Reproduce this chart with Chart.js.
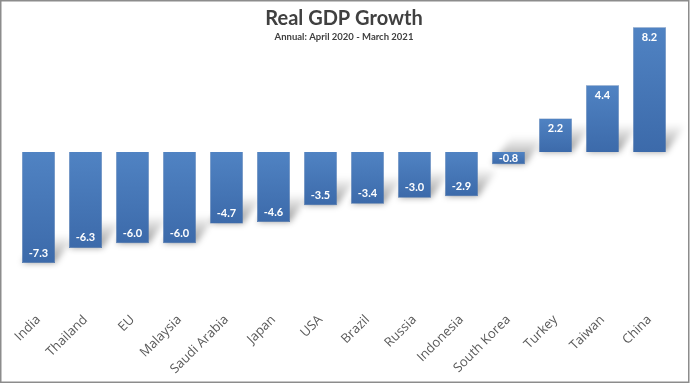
<!DOCTYPE html>
<html>
<head>
<meta charset="utf-8">
<title>Real GDP Growth</title>
<script src="https://cdn.jsdelivr.net/npm/chart.js@4"></script>
<style>
    body { margin: 0; background: #ffffff; }
    canvas { display: block; }
</style>
</head>
<body>
<canvas id="graficoGdp" width="690" height="384"></canvas>
<script>
const countries = ["India", "Thailand", "EU", "Malaysia", "Saudi Arabia", "Japan", "USA", "Brazil", "Russia", "Indonesia", "South Korea", "Turkey", "Taiwan", "China"];
const growth = [-7.3, -6.3, -6.0, -6.0, -4.7, -4.6, -3.5, -3.4, -3.0, -2.9, -0.8, 2.2, 4.4, 8.2];
const chartTitle = "Real GDP Growth";
const chartSubtitle = "Annual: April 2020 - March 2021";

document.addEventListener("DOMContentLoaded", () => {
    generarGrafico();
});

// gradient per bar, lighter at the top
function barFill(context) {
    const chart = context.chart;
    const y = chart.scales.y;
    if (!y || !chart.chartArea) return "#4a7cbc";
    const v = growth[context.dataIndex];
    const top = y.getPixelForValue(Math.max(v, 0));
    const bottom = y.getPixelForValue(Math.min(v, 0));
    const g = chart.ctx.createLinearGradient(0, top, 0, bottom + 0.01);
    g.addColorStop(0, "#5083c3");
    g.addColorStop(1, "#3c6aaa");
    return g;
}

const floorShadow = {
    id: "floorShadow",
    beforeDatasetsDraw(chart) {
        const ctx = chart.ctx;
        const meta = chart.getDatasetMeta(0);
        ctx.save();
        ctx.filter = "blur(3px)";
        meta.data.forEach((bar) => {
            const half = bar.width / 2;
            const left = bar.x - half;
            const right = bar.x + half;
            const bottom = Math.max(bar.y, bar.base);
            const dx = 20, dy = 28;
            const g = ctx.createLinearGradient(0, bottom, 0, bottom - dy);
            g.addColorStop(0, "rgba(0,0,0,0.42)");
            g.addColorStop(1, "rgba(0,0,0,0)");
            ctx.fillStyle = g;
            ctx.beginPath();
            ctx.moveTo(left, bottom);
            ctx.lineTo(right, bottom);
            ctx.lineTo(right + dx, bottom - dy);
            ctx.lineTo(left + dx, bottom - dy);
            ctx.closePath();
            ctx.fill();
        });
        ctx.restore();
    }
};

const barLabels = {
    id: "barLabels",
    afterDatasetsDraw(chart) {
        const ctx = chart.ctx;
        const meta = chart.getDatasetMeta(0);
        ctx.save();
        ctx.fillStyle = "#ffffff";
        ctx.font = "bold 11px Lato";
        ctx.textAlign = "center";
        ctx.textBaseline = "middle";
        meta.data.forEach((bar, i) => {
            const v = growth[i];
            const h = Math.abs(bar.base - bar.y);
            const off = Math.min(10, h / 2);
            const y = v < 0 ? bar.y - off : bar.y + off;
            ctx.fillText(v.toFixed(1), bar.x, y);
        });
        ctx.restore();
    }
};

const titles = {
    id: "titles",
    afterDraw(chart) {
        const ctx = chart.ctx;
        ctx.save();
        ctx.textAlign = "center";
        ctx.textBaseline = "alphabetic";
        ctx.fillStyle = "#404040";
        ctx.font = "bold 20px Lato";
        ctx.fillText(chartTitle, 344, 25);
        ctx.font = "bold 9.5px Lato";
        ctx.fillText(chartSubtitle, 344, 40);
        // frame
        ctx.strokeStyle = "#8c8c8c";
        ctx.lineWidth = 1.5;
        ctx.strokeRect(0.75, 0.75, 688, 381.5);
        ctx.restore();
    }
};

function generarGrafico() {
    const ctx = document.getElementById("graficoGdp").getContext("2d");
    new Chart(ctx, {
        type: "bar",
        data: {
            labels: countries,
            datasets: [{
                label: "Real GDP Growth",
                data: growth,
                backgroundColor: barFill,
                borderColor: "#3a66a3",
                borderWidth: 0.5,
                categoryPercentage: 1,
                barPercentage: 0.7
            }]
        },
        options: {
            responsive: false,
            animation: false,
            layout: { padding: { left: 15, right: 17, top: 10, bottom: 4 } },
            plugins: {
                legend: { display: false },
                tooltip: { enabled: false }
            },
            scales: {
                x: {
                    grid: { display: false },
                    border: { display: false },
                    ticks: {
                        color: "#595959",
                        font: { family: "Open Sans", size: 13 },
                        minRotation: 45,
                        maxRotation: 45,
                        autoSkip: false
                    }
                },
                y: {
                    display: false,
                    min: -9.8,
                    max: 9.34
                }
            }
        },
        plugins: [floorShadow, barLabels, titles]
    });
}
</script>
</body>
</html>
